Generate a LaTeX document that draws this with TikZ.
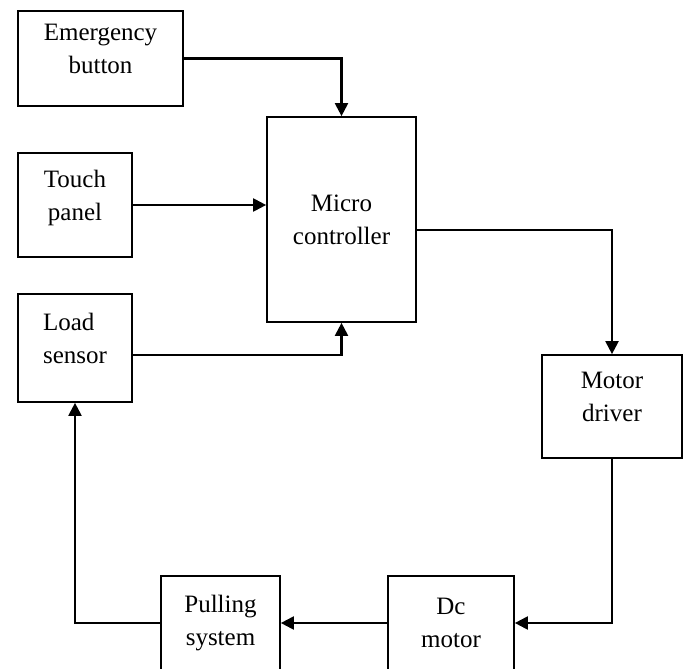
\documentclass[tikz,border=0pt]{standalone}
\usepackage{fontspec}
\setmainfont{Liberation Serif}
\usetikzlibrary{arrows.meta}
\begin{document}
\begin{tikzpicture}[x=1pt,y=-1pt,>={Triangle[length=13pt,width=13pt]}]
	\tikzstyle{block}=[rectangle,draw=black,line width=1.7pt,fill=white,align=center,inner sep=0pt,font=\fontsize{25}{33}\selectfont]
	\tikzstyle{raised}=[text depth=20pt]
	\tikzstyle{edge}=[draw=black,line width=2.1pt]

	\clip (0,0) rectangle (688,669);

	 \node [block,raised,minimum width=165pt,minimum height=95pt] (emg) at (100.5,58.5) {Emergency\\button};
	 \node [block,raised,minimum width=114pt,minimum height=104pt] (touch) at (75,205) {Touch\\panel};
	 \node [block,minimum width=149pt,minimum height=205pt] (micro) at (341.5,219.5) {Micro\\controller};
	 \node [block,raised,align=left,minimum width=114pt,minimum height=108pt,inner xsep=22pt] (load) at (75,348) {Load\\sensor};
	 \node [block,raised,minimum width=140pt,minimum height=103pt] (driver) at (612,406.5) {Motor\\driver};
	 \node [block,minimum width=126pt,minimum height=94pt] (dc) at (451,623) {Dc\\motor};
	 \node [block,minimum width=119pt,minimum height=94pt] (pull) at (220.5,623) {Pulling\\system};

	 \path[edge,->] (emg.east) -| (micro.north);
	 \path[edge,->] (touch.east) -- (touch.east -| micro.west);
	 \path[edge,->] ([yshift=-7pt]load.east) -| (micro.south);
	 \path[edge,->] (micro.east |- 0,230) -| (driver.north);
	 \path[edge,->] (driver.south) |- (dc.east);
	 \path[edge,->] (dc.west) -- (pull.east);
	 \path[edge,->] (pull.west) -| (load.south);

\end{tikzpicture}
\end{document}
